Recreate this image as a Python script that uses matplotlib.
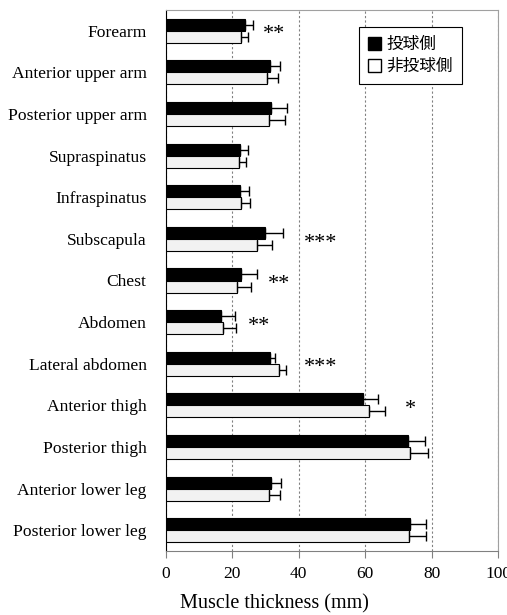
import numpy as np
import matplotlib.pyplot as plt
from matplotlib.patches import Patch

muscles = ["Forearm", "Anterior upper arm", "Posterior upper arm", "Supraspinatus",
           "Infraspinatus", "Subscapula", "Chest", "Abdomen", "Lateral abdomen",
           "Anterior thigh", "Posterior thigh", "Anterior lower leg", "Posterior lower leg"]
throw_mean = [23.7, 31.2, 31.5, 22.4, 22.4, 29.9, 22.7, 16.5, 31.2, 59.3, 73.0, 31.5, 73.6]
throw_sd = [2.6, 3.2, 4.9, 2.3, 2.6, 5.3, 4.8, 4.3, 1.5, 4.7, 4.9, 3.0, 4.6]
nonthrow_mean = [22.6, 30.5, 31.1, 21.9, 22.6, 27.5, 21.3, 17.3, 34.0, 61.1, 73.6, 31.1, 73.2]
nonthrow_sd = [2.1, 3.2, 4.7, 2.1, 2.6, 4.4, 4.2, 3.8, 2.1, 5.0, 5.2, 3.1, 5.0]
signif = {0: "**", 5: "***", 6: "**", 7: "**", 8: "***", 9: "*"}
signif_x = {0: 32.5, 5: 46.5, 6: 34.0, 7: 28.0, 8: 46.5, 9: 73.5}

serif = ["Liberation Serif", "DejaVu Serif"]

fig = plt.figure(figsize=(5.07, 6.15), dpi=100)
ax = fig.add_axes([166 / 507, 1 - 551 / 615, 332 / 507, 541 / 615])

y = np.arange(len(muscles))
h = 0.29
ax.barh(y - h / 2, throw_mean, height=h, color="black", edgecolor="black", linewidth=0.8, zorder=3)
ax.barh(y + h / 2, nonthrow_mean, height=h, color="#f2f2f2", edgecolor="black", linewidth=0.8, zorder=3)
ax.errorbar(throw_mean, y - h / 2, xerr=[np.zeros(len(y)), throw_sd], fmt="none",
            ecolor="black", elinewidth=1, capsize=3.5, zorder=4)
ax.errorbar(nonthrow_mean, y + h / 2, xerr=[np.zeros(len(y)), nonthrow_sd], fmt="none",
            ecolor="black", elinewidth=1, capsize=3.5, zorder=4)

for i, s in signif.items():
    ax.text(signif_x[i], i + 0.1, s, ha="center", va="center", fontsize=16, family=serif)

ax.set_xlim(0, 100)
ax.set_ylim(len(muscles) - 0.5, -0.5)
ax.set_yticks(y)
ax.set_yticklabels(muscles, family=serif, fontsize=12.6)
ax.tick_params(axis="y", length=0, pad=14)
ax.set_xticks([0, 20, 40, 60, 80, 100])
ax.set_xticklabels(["0", "20", "40", "60", "80", "100"], family=serif, fontsize=12.5)
ax.tick_params(axis="x", length=5, color="#808080", pad=6)
ax.grid(axis="x", linestyle=(0, (2, 2)), color="#808080", linewidth=0.8, zorder=0)
ax.spines["left"].set_color("black")
ax.spines["bottom"].set_color("#808080")
ax.spines["top"].set_color("#a0a0a0")
ax.spines["right"].set_color("#a0a0a0")

handles = [Patch(facecolor="black", edgecolor="black"),
           Patch(facecolor="white", edgecolor="black")]
leg = ax.legend(handles, ["投球側", "非投球側"], loc="upper right",
                bbox_to_anchor=(296 / 332, 1 - 17 / 541), borderaxespad=0,
                prop={"family": ["Noto Sans CJK JP"], "size": 12},
                fancybox=False, framealpha=1, edgecolor="black", handlelength=0.8,
                handleheight=0.8, handletextpad=0.3, borderpad=0.55, labelspacing=0.3)
leg.get_frame().set_linewidth(0.8)

fig.text(274.5 / 507, 1 - 604 / 615, "Muscle thickness (mm)", ha="center", va="center",
         family=serif, fontsize=14.5)

fig.savefig("out.png", dpi=100)
